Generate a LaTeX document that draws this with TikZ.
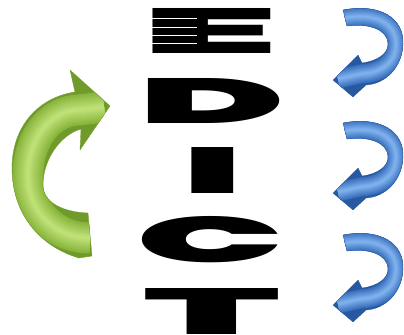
\documentclass[tikz,border=0pt]{standalone}
\usepackage{fontspec}
\IfFontExistsTF{Poppins Black}{\newfontfamily\blkfam{Poppins Black}}{%
  \IfFontExistsTF{Lato Black}{\newfontfamily\blkfam{Lato Black}}{%
    \newfontfamily\blkfam{Liberation Sans}[UprightFont={* Bold}]}}
\definecolor{gedge}{RGB}{112,155,42}
\definecolor{g1}{RGB}{135,180,58}
\definecolor{g5}{RGB}{190,224,118}
\definecolor{bedge}{RGB}{40,88,160}
\definecolor{b1}{RGB}{55,110,188}
\definecolor{b5}{RGB}{125,176,236}
\def\bluepath{(343,10) .. controls (380,3) and (404,18) .. (403,44) .. controls (402,68) and (385,84) .. (366,85) -- (353,97) -- (333,80) -- (358,55) -- (362,63) .. controls (378,61) and (389,53) .. (388,43) .. controls (387,30) and (370,23) .. (347,26) -- cycle}
\def\bluemid{(345,18) .. controls (378,12) and (396,25) .. (396,44) .. controls (396,62) and (382,73) .. (360,74) -- (338,79)}
\def\greenpath{(70,70) -- (110,106) -- (80,150) -- (81,129) .. controls (60,135) and (43,160) .. (43,185) .. controls (43,202) and (62,212) .. (88,213) -- (92,256) -- (79,258) .. controls (38,246) and (12,212) .. (12,168) .. controls (12,125) and (40,97) .. (75,92) -- cycle}
\def\greenmid{(104,107) -- (78,110) .. controls (45,112) and (27,145) .. (28,178) .. controls (29,212) and (55,238) .. (90,238)}
\tikzset{
  letter/.style={inner sep=0pt, outer sep=0pt, anchor=south west, text=black},
  gapline/.style={white, line width=0.5mm}
}
\begin{document}
\begin{tikzpicture}[x=1mm,y=-1mm]
\useasboundingbox (0,0) rectangle (404,335);
\clip (0,0) rectangle (404,335);
% letters
\node[letter] (E) at (140.3,53) {\resizebox{138mm}{45mm}{\blkfam E}};
\node[letter] (D) at (138,123) {\resizebox{146.7mm}{45mm}{\blkfam D}};
\node[letter] (I) at (182.4,193) {\resizebox{60.5mm}{46mm}{\blkfam I}};
\node[letter] (C) at (136.6,263) {\resizebox{146.8mm}{46mm}{\blkfam C}};
\node[letter] (T) at (143,334) {\resizebox{137mm}{46mm}{\blkfam T}};
\foreach \yy in {18,27,35,43} \draw[gapline] (152,\yy) -- (197,\yy);
% green arrow
\fill[gedge] \greenpath;
\begin{scope}
  \clip \greenpath;
  \foreach \i in {0,...,14}{
    \pgfmathsetmacro\w{31-2*\i}
    \pgfmathsetmacro\p{100*\i/14}
    \draw[g5!\p!g1, line width=\w mm] \greenmid;
  }
\end{scope}
\draw[gedge, line width=0.3mm, line join=round] \greenpath;
% blue arrows
\foreach \dy in {0,113,225}{
  \begin{scope}[shift={(0,\dy)}]
    \fill[bedge] \bluepath;
    \begin{scope}
      \clip \bluepath;
      \foreach \i in {0,...,10}{
        \pgfmathsetmacro\w{19-1.7*\i}
        \pgfmathsetmacro\p{100*\i/10}
        \draw[b5!\p!b1, line width=\w mm] \bluemid;
      }
    \end{scope}
    \draw[bedge, line width=0.3mm, line join=round] \bluepath;
  \end{scope}
}
\end{tikzpicture}
\end{document}
